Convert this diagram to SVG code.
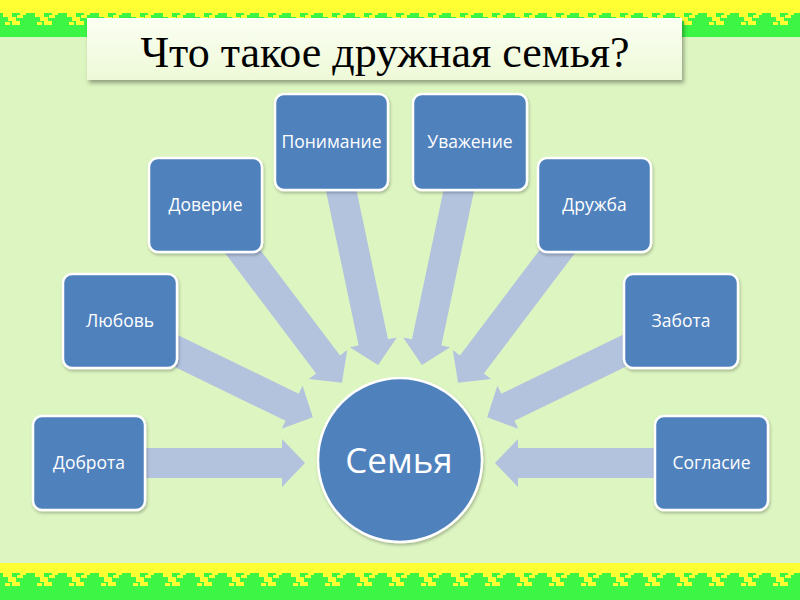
<svg xmlns="http://www.w3.org/2000/svg" width="800" height="600" viewBox="0 0 800 600">
<defs>
<pattern id="orn" x="0" y="10" width="32" height="18" patternUnits="userSpaceOnUse">
<rect width="32" height="18" fill="#3cf545"/>
<rect x="0" y="0" width="32" height="3" fill="#ffff33"/>
<rect x="3" y="3" width="9" height="4" fill="#ffff33"/>
<rect x="8" y="7" width="8" height="4" fill="#ffff33"/>
<rect x="12" y="11" width="8" height="4" fill="#ffff33"/>
<rect x="17" y="5" width="6" height="3" fill="#ffff33"/>
<rect x="5" y="12" width="5" height="3" fill="#ffff33"/>
<rect x="20" y="3" width="6" height="2" fill="#ffff33"/>
</pattern>
<pattern id="orn2" x="0" y="569" width="32" height="21" patternUnits="userSpaceOnUse">
<rect width="32" height="21" fill="#3cf545"/>
<rect x="0" y="0" width="32" height="4" fill="#ffff33"/>
<rect x="3" y="4" width="9" height="4" fill="#ffff33"/>
<rect x="8" y="8" width="8" height="5" fill="#ffff33"/>
<rect x="12" y="13" width="8" height="4" fill="#ffff33"/>
<rect x="17" y="6" width="6" height="3" fill="#ffff33"/>
<rect x="5" y="14" width="5" height="3" fill="#ffff33"/>
<rect x="20" y="4" width="6" height="2" fill="#ffff33"/>
</pattern>
<linearGradient id="tg" x1="0" y1="0" x2="0" y2="1">
<stop offset="0" stop-color="#fbfff2"/>
<stop offset="1" stop-color="#eef9d8"/>
</linearGradient>
<filter id="sh" x="-10%" y="-10%" width="130%" height="140%">
<feDropShadow dx="2" dy="3" stdDeviation="2" flood-color="#000" flood-opacity="0.35"/>
</filter>
<filter id="nsh" x="-10%" y="-10%" width="130%" height="130%">
<feDropShadow dx="1" dy="2" stdDeviation="1.5" flood-color="#000" flood-opacity="0.25"/>
</filter>
</defs>
<style>
.node rect{fill:#4f81bd;stroke:#ffffff;stroke-width:2.5;filter:url(#nsh)}
.node text{fill:#ffffff;font-family:"Open Sans","Noto Sans",sans-serif;font-size:17.5px;text-anchor:middle}
.arr polygon{fill:#b3c3de}
</style>
<rect width="800" height="600" fill="#ddf5c1"/>
<rect x="0" y="0" width="800" height="10" fill="#ffff33"/>
<rect x="0" y="10" width="800" height="18" fill="url(#orn)"/>
<rect x="0" y="27" width="800" height="10" fill="#3cf545"/>
<rect x="0" y="563" width="800" height="6" fill="#ffff33"/>
<rect x="0" y="569" width="800" height="21" fill="url(#orn2)"/>
<rect x="0" y="590" width="800" height="10" fill="#3cf545"/>

<g id="title">
<rect x="87" y="18" width="595" height="62" fill="url(#tg)" filter="url(#sh)"/>
<text x="385" y="67" font-family="Liberation Serif, serif" font-size="44" text-anchor="middle" fill="#000">Что такое дружная семья?</text>
</g>

<g id="connectors" class="arr">
<polygon transform="translate(140,463)" points="0,-15 142,-15 142,-24 165,0 142,24 142,15 0,15"/>
<polygon transform="translate(168,347) rotate(25.9)" points="0,-15 138,-15 138,-24 161,0 138,24 138,15 0,15"/>
<polygon transform="translate(237,244) rotate(52.9)" points="0,-15 151,-15 151,-24 174,0 151,24 151,15 0,15"/>
<polygon transform="translate(339,180) rotate(78.06)" points="0,-15 166,-15 166,-24 189,0 166,24 166,15 0,15"/>
<polygon transform="translate(461,180) rotate(101.94)" points="0,-15 166,-15 166,-24 189,0 166,24 166,15 0,15"/>
<polygon transform="translate(563,244) rotate(127.1)" points="0,-15 151,-15 151,-24 174,0 151,24 151,15 0,15"/>
<polygon transform="translate(632,347) rotate(154.1)" points="0,-15 138,-15 138,-24 161,0 138,24 138,15 0,15"/>
<polygon transform="translate(660,463) rotate(180)" points="0,-15 142,-15 142,-24 165,0 142,24 142,15 0,15"/>
</g>

<g id="n-dobrota" class="node"><rect x="33" y="416" width="112" height="94" rx="9"/><text x="89" y="469">Доброта</text></g>
<g id="n-lyubov" class="node"><rect x="63" y="274" width="114" height="94" rx="9"/><text x="120" y="327">Любовь</text></g>
<g id="n-doverie" class="node"><rect x="149" y="158" width="113" height="94" rx="9"/><text x="205.5" y="211">Доверие</text></g>
<g id="n-ponimanie" class="node"><rect x="275" y="94" width="113" height="96" rx="9"/><text x="331.5" y="148">Понимание</text></g>
<g id="n-uvazhenie" class="node"><rect x="413" y="94" width="114" height="96" rx="9"/><text x="470" y="148">Уважение</text></g>
<g id="n-druzhba" class="node"><rect x="538" y="158" width="113" height="94" rx="9"/><text x="594.5" y="211">Дружба</text></g>
<g id="n-zabota" class="node"><rect x="624" y="274" width="114" height="94" rx="9"/><text x="681" y="327">Забота</text></g>
<g id="n-soglasie" class="node"><rect x="655" y="416" width="113" height="94" rx="9"/><text x="711.5" y="469">Согласие</text></g>

<g id="n-semya">
<circle cx="400" cy="460" r="82" fill="#4f81bd" stroke="#ffffff" stroke-width="2.5" filter="url(#nsh)"/>
<text x="399" y="473" font-family="Open Sans, Noto Sans, sans-serif" font-size="35" fill="#ffffff" text-anchor="middle">Семья</text>
</g>
</svg>
